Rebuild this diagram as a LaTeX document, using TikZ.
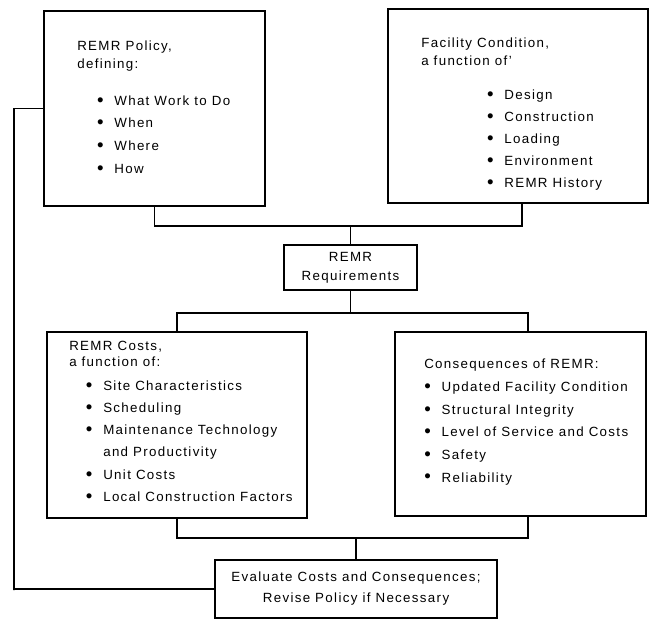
\documentclass[tikz,border=0pt]{standalone}
\usepackage{fontspec}
\setmainfont{Liberation Sans}[LetterSpace=10]
\newcommand\bitem[2]{\hspace*{#1}\makebox[13pt][l]{\raisebox{-0.7pt}{\fontsize{14}{12}\selectfont\textbullet}}#2}
\newcommand\bcont[2]{\hspace*{#1}\hspace*{13pt}#2}

\begin{document}
\begin{tikzpicture}[x=0.75pt, y=-0.75pt,
  box/.style={draw, line width=1.3pt, inner sep=0pt, align=center, font=\fontsize{10}{12}\selectfont},
  txt/.style={anchor=north west, inner sep=0pt, align=left, font=\fontsize{10}{12}\selectfont},
  wire/.style={line width=1.3pt}]
\useasboundingbox (0,0) rectangle (652,620);
% boxes
\node[box, minimum width=165.75pt, minimum height=146.25pt] (policy) at (154.5,108.5) {};
\node[box, minimum width=195pt, minimum height=145.5pt] (condition) at (518,106) {};
\node[box, minimum width=99.75pt, minimum height=33.75pt] (req) at (350.5,267.5) {REMR\\[2.25pt]Requirements};
\node[box, minimum width=195pt, minimum height=139.5pt] (costs) at (177,425) {};
\node[box, minimum width=188.25pt, minimum height=138pt] (conseq) at (520.5,424) {};
\node[box, minimum width=211.5pt, minimum height=43.5pt] (review) at (356,589) {Evaluate Costs and Consequences;\\[3.75pt]Revise Policy if Necessary};
% box texts
\node[txt] (policytxt) at (77,40.5) {REMR Policy,\\[1.5pt]defining:\\[15.6pt]
  \bitem{14.8pt}{What Work to Do}\\[5pt]
  \bitem{14.8pt}{When}\\[5pt]
  \bitem{14.8pt}{Where}\\[5pt]
  \bitem{14.8pt}{How}};
\node[txt] (conditiontxt) at (421,38) {Facility Condition,\\[1.5pt]a function of'\\[13.5pt]
  \bitem{49.3pt}{Design}\\[4.5pt]
  \bitem{49.3pt}{Construction}\\[4.5pt]
  \bitem{49.3pt}{Loading}\\[4.5pt]
  \bitem{49.3pt}{Environment}\\[4.5pt]
  \bitem{49.3pt}{REMR History}};
\node[txt] (coststxt) at (69,341) {REMR Costs,\\a function of:\\[6pt]
  \bitem{12.5pt}{Site Characteristics}\\[4.6pt]
  \bitem{12.5pt}{Scheduling}\\[4.6pt]
  \bitem{12.5pt}{Maintenance Technology}\\[4.6pt]
  \bcont{12.5pt}{and Productivity}\\[4.6pt]
  \bitem{12.5pt}{Unit Costs}\\[4.6pt]
  \bitem{12.5pt}{Local Construction Factors}};
\node[txt] (conseqtxt) at (424,359) {Consequences of REMR:\\[5.25pt]
  \bitem{0pt}{Updated Facility Condition}\\[4.9pt]
  \bitem{0pt}{Structural Integrity}\\[4.9pt]
  \bitem{0pt}{Level of Service and Costs}\\[4.9pt]
  \bitem{0pt}{Safety}\\[4.9pt]
  \bitem{0pt}{Reliability}};
% junctions
\coordinate (jtop) at (350.5,226);
\coordinate (jmid) at (350.5,313);
\coordinate (jbot) at (356,538);
\coordinate (fbcorner) at (14,590);
% connectors
\draw[wire] (policy.south) |- (jtop) -| ([xshift=3pt]condition.south);
\draw[wire] (jtop) -- (req.north);
\draw[wire] (req.south) -- (jmid);
\draw[wire] (costs.north) |- (jmid) -| ([xshift=5.6pt]conseq.north);
\draw[wire] (costs.south) |- (jbot) -| ([xshift=5.6pt]conseq.south);
\draw[wire] (jbot) -- (review.north);
\draw[wire] (review.west) -| (fbcorner) |- (policy.west);
\end{tikzpicture}
\end{document}
